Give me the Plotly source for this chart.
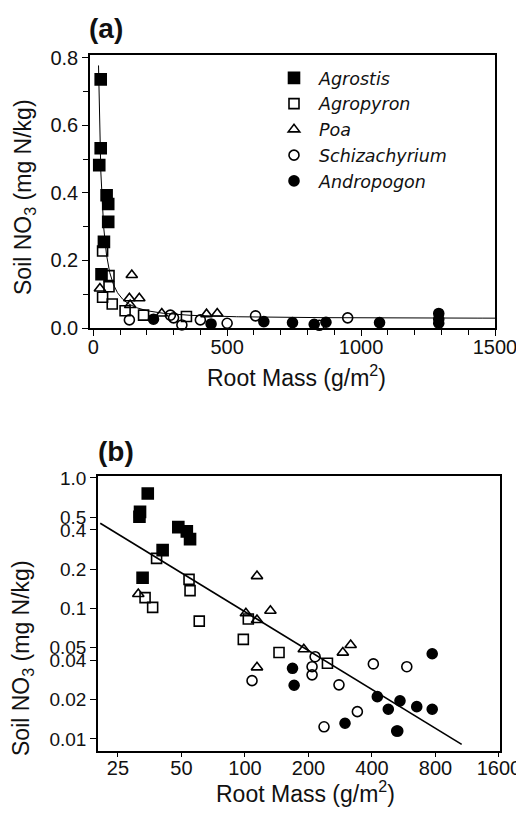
import numpy as np
import plotly.graph_objects as go

# ---------------- Panel (a) data (linear axes) ----------------
a_agrostis_x = [28, 28, 22.5, 50, 56, 56, 40, 31]
a_agrostis_y = [0.736, 0.532, 0.482, 0.393, 0.367, 0.314, 0.255, 0.159]

a_agropyron_x = [35, 59, 59, 35, 71, 119, 188, 348]
a_agropyron_y = [0.228, 0.155, 0.122, 0.091, 0.071, 0.051, 0.038, 0.034]

a_poa_x = [25, 144, 135, 172, 138, 256, 423, 463]
a_poa_y = [0.117, 0.157, 0.088, 0.088, 0.068, 0.043, 0.041, 0.043]

a_schiz_x = [135, 288, 300, 331, 400, 500, 606, 844, 950]
a_schiz_y = [0.024, 0.038, 0.030, 0.009, 0.024, 0.014, 0.036, 0.008, 0.030]

a_andro_x = [225, 440, 637, 744, 825, 869, 1069, 1290, 1290, 1290]
a_andro_y = [0.026, 0.012, 0.019, 0.016, 0.011, 0.017, 0.016, 0.043, 0.026, 0.014]

# fitted curve (a): y = A + B * x^-P
fit_a_A, fit_a_B, fit_a_P = 0.028, 66.0, 1.5
fit_a_xmin, fit_a_xmax = 19.8, 1500

# ---------------- Panel (b) data (log-log axes) ----------------
b_agrostis_x = [34.6, 31.8, 31.6, 48.3, 53.0, 54.9, 40.7, 32.7]
b_agrostis_y = [0.76, 0.55, 0.505, 0.42, 0.39, 0.34, 0.28, 0.172]

b_agropyron_x = [38.1, 54.3, 54.9, 33.6, 36.5, 60.7, 103.7, 98.2, 145, 246]
b_agropyron_y = [0.242, 0.167, 0.137, 0.121, 0.102, 0.080, 0.083, 0.058, 0.046, 0.038]

b_poa_x = [31.2, 101, 114, 114, 132, 190, 291, 317, 114]
b_poa_y = [0.129, 0.092, 0.177, 0.0816, 0.096, 0.0487, 0.0459, 0.0525, 0.0354]

b_schiz_x = [108, 215, 208, 208, 279, 406, 585, 341, 237, 530]
b_schiz_y = [0.028, 0.0427, 0.0358, 0.031, 0.026, 0.0376, 0.0358, 0.0162, 0.0124, 0.0115]

b_andro_x = [168, 171, 298, 424, 478, 543, 652, 772, 772, 524]
b_andro_y = [0.0348, 0.0258, 0.0132, 0.0211, 0.0169, 0.0196, 0.0177, 0.045, 0.0169, 0.0115]

# fitted line (b): y = C * x^K
fit_b_C, fit_b_K = 8.97, -0.989
fit_b_xmin, fit_b_xmax = 20.6, 1065

# tick labels
a_xticks = [0, 500, 1000, 1500]
a_yticks = [0.0, 0.2, 0.4, 0.6, 0.8]
a_yticktext = ["0.0", "0.2", "0.4", "0.6", "0.8"]
b_xticks = [25, 50, 100, 200, 400, 800, 1600]
b_yticks = [0.01, 0.02, 0.04, 0.05, 0.1, 0.2, 0.4, 0.5, 1.0]
b_yticktext = ["0.01", "0.02", "0.04", "0.05", "0.1", "0.2", "0.4", "0.5", "1.0"]

species = [
    ("<i>Agrostis</i>", "square", "black", a_agrostis_x, a_agrostis_y, b_agrostis_x, b_agrostis_y, 11),
    ("<i>Agropyron</i>", "square-open", "black", a_agropyron_x, a_agropyron_y, b_agropyron_x, b_agropyron_y, 10),
    ("<i>Poa</i>", "triangle-up-open", "black", a_poa_x, a_poa_y, b_poa_x, b_poa_y, 10),
    ("<i>Schizachyrium</i>", "circle-open", "black", a_schiz_x, a_schiz_y, b_schiz_x, b_schiz_y, 10),
    ("<i>Andropogon</i>", "circle", "black", a_andro_x, a_andro_y, b_andro_x, b_andro_y, 10),
]

FONT = "Liberation Sans, Arial, Helvetica, sans-serif"
# the page body has an 8px default margin; the figure is sized to fill the rest
OFF = 8
W, H = 524 - OFF, 813 - OFF


def px(x):  # window pixel -> paper x fraction
    return (x - OFF) / W


def py(y):  # window pixel -> paper y fraction
    return 1 - (y - OFF) / H


fig = go.Figure()

# fitted curves
xa = np.geomspace(fit_a_xmin, fit_a_xmax, 400)
fig.add_trace(go.Scatter(x=xa, y=fit_a_A + fit_a_B * xa ** (-fit_a_P), mode="lines",
                         line=dict(color="black", width=1), showlegend=False,
                         xaxis="x", yaxis="y", hoverinfo="skip"))
xb = np.array([fit_b_xmin, fit_b_xmax])
fig.add_trace(go.Scatter(x=xb, y=fit_b_C * xb ** fit_b_K, mode="lines",
                         line=dict(color="black", width=1.6), showlegend=False,
                         xaxis="x2", yaxis="y2", hoverinfo="skip"))

for name, sym, col, ax_, ay_, bx_, by_, sz in species:
    mk = dict(symbol=sym, color=col, size=sz, line=dict(color="black", width=1.6))
    fig.add_trace(go.Scatter(x=ax_, y=ay_, mode="markers", name=name, marker=mk,
                             xaxis="x", yaxis="y", cliponaxis=False))
    fig.add_trace(go.Scatter(x=bx_, y=by_, mode="markers", name=name, marker=mk,
                             xaxis="x2", yaxis="y2", showlegend=False, cliponaxis=False))

axis_common = dict(showgrid=False, zeroline=False, showline=True, linecolor="black",
                   linewidth=1.5, mirror=True, ticks="outside", tickcolor="black",
                   tickwidth=1.3, automargin=False)
tf20 = dict(family=FONT, size=20, color="#111")
tf19 = dict(family=FONT, size=19, color="#111")

fig.update_layout(
    width=W, height=H, margin=dict(l=0, r=0, t=0, b=0, autoexpand=False),
    paper_bgcolor="white", plot_bgcolor="white",
    font=dict(family=FONT, color="#111"),
    xaxis=dict(domain=[px(90), px(495)], range=[-12, 1500], tickvals=a_xticks,
               ticklen=6, ticklabelstandoff=-6,
               minor=dict(dtick=100, ticks="outside", ticklen=5, tickcolor="black"),
               anchor="y", tickfont=tf20, **axis_common),
    yaxis=dict(domain=[py(328), py(55)], range=[0, 0.808], tickvals=a_yticks,
               ticktext=a_yticktext, ticklen=6,
               minor=dict(dtick=0.1, ticks="outside", ticklen=5, tickcolor="black"),
               anchor="x", tickfont=tf20, **axis_common),
    xaxis2=dict(domain=[px(98), px(500)], type="log", range=[np.log10(20.1), np.log10(1618)],
                tickvals=b_xticks, ticktext=[str(v) for v in b_xticks], anchor="y2",
                ticklen=4, ticklabelstandoff=-6, tickfont=tf20, **axis_common),
    yaxis2=dict(domain=[py(751), py(476)], type="log", range=[-2.092, 0.015],
                tickvals=b_yticks, ticktext=b_yticktext, anchor="x2", tickfont=tf19,
                ticklen=6, **axis_common),
    legend=dict(x=px(269), y=py(60), xanchor="left", yanchor="top", itemwidth=40,
                font=dict(family="DejaVu Sans, Liberation Sans, sans-serif", size=17.5, color="#111"),
                bgcolor="rgba(0,0,0,0)", tracegroupgap=0),
    showlegend=True,
)

ann = []
ann.append(dict(text="<b>(a)</b>", x=px(87), y=py(29), xref="paper", yref="paper",
                xanchor="left", yanchor="middle", showarrow=False,
                font=dict(family=FONT, size=28, color="#111")))
ann.append(dict(text="<b>(b)</b>", x=px(96), y=py(451), xref="paper", yref="paper",
                xanchor="left", yanchor="middle", showarrow=False,
                font=dict(family=FONT, size=28, color="#111")))
ann.append(dict(text="Root Mass (g/m<sup>2</sup>)", x=px(296), y=py(376), xref="paper",
                yref="paper", xanchor="center", yanchor="middle", showarrow=False,
                font=dict(family=FONT, size=23, color="#111")))
ann.append(dict(text="Root Mass (g/m<sup>2</sup>)", x=px(305), y=py(792), xref="paper",
                yref="paper", xanchor="center", yanchor="middle", showarrow=False,
                font=dict(family=FONT, size=23, color="#111")))
ann.append(dict(text="Soil NO<sub>3</sub> (mg N/kg)", x=px(25), y=py(197), xref="paper",
                yref="paper", xanchor="center", yanchor="middle", showarrow=False,
                textangle=-90, font=dict(family=FONT, size=23, color="#111")))
ann.append(dict(text="Soil NO<sub>3</sub> (mg N/kg)", x=px(22), y=py(658), xref="paper",
                yref="paper", xanchor="center", yanchor="middle", showarrow=False,
                textangle=-90, font=dict(family=FONT, size=23, color="#111")))
fig.update_layout(annotations=ann)

fig.write_html("out.html")
